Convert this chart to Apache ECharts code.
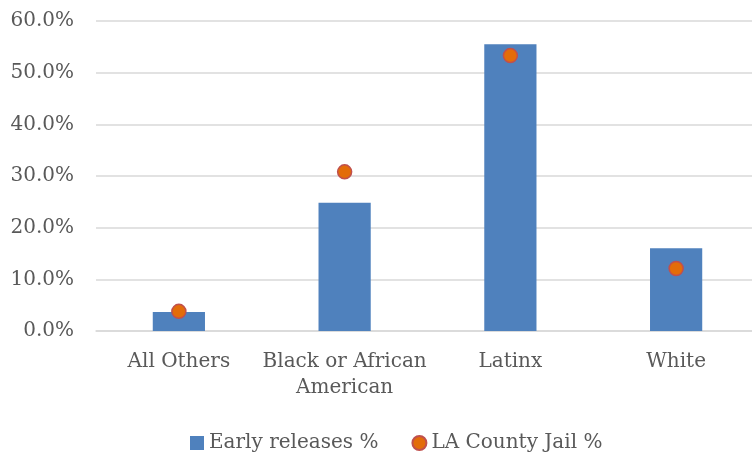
<!DOCTYPE html>
<html>
<head>
<meta charset="utf-8">
<script src="https://cdn.jsdelivr.net/npm/echarts@6/dist/echarts.min.js"></script>
<style>
  html, body { margin: 0; padding: 0; background: #fff; overflow: hidden; }
  /* plot area runs slightly past the right edge of the window */
  #chart { width: 759px; height: 454px; }
</style>
</head>
<body>
<div id="chart"></div>
<script>
// Categories and series values (percent)
const categories = ['All Others', 'Black or African\nAmerican', 'Latinx', 'White'];
const earlyReleases = [3.7, 24.8, 55.5, 16.0];
const jailShare = [3.8, 30.8, 53.3, 12.1];
const seriesNames = ['Early releases %', 'LA County Jail %'];

const textColor = '#595959';
const fontFamily = '"DejaVu Serif", "Liberation Serif", serif';

const chart = echarts.init(document.getElementById('chart'));
chart.setOption({
  animation: false,
  textStyle: { fontFamily: fontFamily },
  grid: { left: 96, top: 21, right: 0, bottom: 123, containLabel: false },
  legend: {
    top: 428,
    left: 185,
    itemGap: 33,
    itemWidth: 14,
    itemHeight: 14,
    textStyle: { color: textColor, fontSize: 20, fontFamily: fontFamily },
    data: [
      { name: seriesNames[0], icon: 'rect' },
      { name: seriesNames[1], icon: 'circle' }
    ]
  },
  xAxis: {
    type: 'category',
    data: categories,
    axisLine: { show: true, lineStyle: { color: '#D9D9D9', width: 1.5 } },
    axisTick: { show: false },
    axisLabel: {
      color: textColor,
      fontSize: 20,
      margin: 18,
      lineHeight: 26,
      interval: 0
    }
  },
  yAxis: {
    type: 'value',
    min: 0,
    max: 60,
    interval: 10,
    axisLine: { show: false },
    axisTick: { show: false },
    splitLine: { lineStyle: { color: '#D9D9D9', width: 1.5 } },
    axisLabel: {
      color: textColor,
      fontSize: 20,
      margin: 22,
      formatter: v => v.toFixed(1) + '%'
    }
  },
  series: [
    {
      name: seriesNames[0],
      type: 'bar',
      data: earlyReleases,
      barWidth: '31.5%',
      itemStyle: { color: '#4F81BD' }
    },
    {
      name: seriesNames[1],
      type: 'scatter',
      data: jailShare,
      symbol: 'circle',
      symbolSize: 14,
      itemStyle: { color: '#E36C09', borderColor: '#C0504D', borderWidth: 1.5, opacity: 1 }
    }
  ]
});
</script>
</body>
</html>
